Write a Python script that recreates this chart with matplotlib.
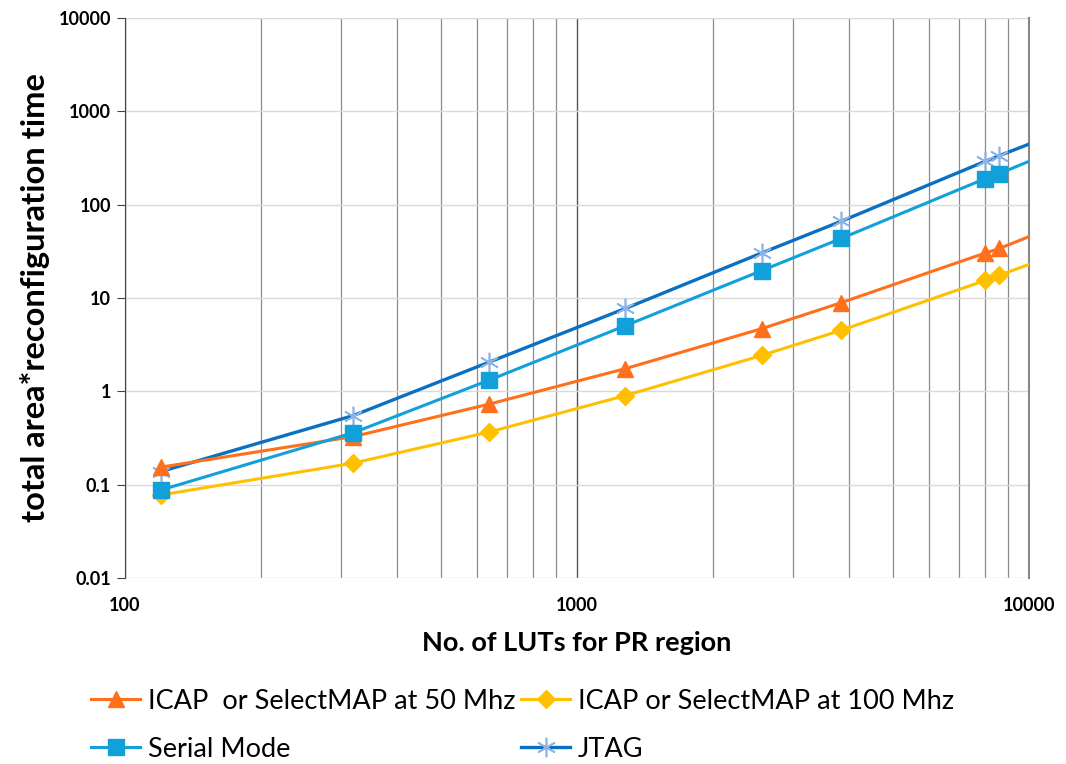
import matplotlib
matplotlib.use("Agg")
import matplotlib.pyplot as plt
from matplotlib.ticker import LogLocator, FixedLocator, NullFormatter

plt.rcParams['font.family'] = ['Lato', 'DejaVu Sans']

# LUTs in the PR region (last value is where the lines run out of the plot)
luts = [120, 320, 640, 1280, 2560, 3840, 8000, 8600, 10000]

icap50 = [0.154, 0.327, 0.73, 1.75, 4.68, 8.9, 30.3, 33.9, 45.4]
icap100 = [0.0775, 0.17, 0.367, 0.9, 2.42, 4.5, 15.4, 17.5, 22.9]
serial = [0.0875, 0.36, 1.32, 5.05, 19.6, 43.4, 190, 215, 291]
jtag = [0.138, 0.55, 2.06, 7.73, 30.3, 66.3, 291, 335, 445]

labels = ['ICAP  or SelectMAP at 50 Mhz', 'ICAP or SelectMAP at 100 Mhz',
          'Serial Mode', 'JTAG']

fig = plt.figure(figsize=(10.66, 7.64), dpi=100)
ax = fig.add_axes([0.1173, 0.2435, 0.848, 0.733])

mk = list(range(len(luts) - 1))
h1, = ax.plot(luts, icap50, color='#FF6F1C', lw=2.2, marker='^', ms=12,
              markevery=mk, label=labels[0], zorder=4)
h2, = ax.plot(luts, icap100, color='#FFC000', lw=2.2, marker='D', ms=9,
              markevery=mk, label=labels[1], zorder=4)
h3, = ax.plot(luts, serial, color='#12A0DA', lw=2.2, marker='s', ms=11,
              markevery=mk, label=labels[2], zorder=5)
h4, = ax.plot(luts, jtag, color='#0B70C2', lw=2.4, marker=(6, 2, 0), ms=14,
              markeredgecolor='#8DB4E2', markeredgewidth=1.2,
              markevery=mk, label=labels[3], zorder=3)

ax.set_xscale('log')
ax.set_yscale('log')
ax.set_xlim(100, 10000)
ax.set_ylim(0.01, 10000)

ax.xaxis.set_major_locator(FixedLocator([100, 1000, 10000]))
ax.xaxis.set_minor_locator(LogLocator(base=10, subs=range(2, 10)))
ax.xaxis.set_minor_formatter(NullFormatter())
ax.set_xticklabels(['100', '1000', '10000'])
ax.yaxis.set_major_locator(FixedLocator([0.01, 0.1, 1, 10, 100, 1000, 10000]))
ax.yaxis.set_minor_locator(FixedLocator([]))
ax.set_yticklabels(['0.01', '0.1', '1', '10', '100', '1000', '10000'])

ax.grid(True, axis='y', which='major', color='#D9D9D9', lw=1.0)
ax.grid(True, axis='x', which='major', color='#555555', lw=1.0)
ax.grid(True, axis='x', which='minor', color='#8C8C8C', lw=0.9)
ax.set_axisbelow(True)

for s in ['top', 'bottom']:
    ax.spines[s].set_visible(False)
ax.spines['right'].set_color('#888888')
ax.spines['right'].set_linewidth(1.5)
ax.spines['left'].set_color('#444444')

ax.tick_params(axis='x', which='both', length=0, pad=14, labelsize=13)
ax.tick_params(axis='y', which='major', length=6, color='#444444',
               labelsize=13, pad=4)
for t in ax.get_xticklabels() + ax.get_yticklabels():
    t.set_fontweight('bold')

ax.set_xlabel('No. of LUTs for PR region', fontsize=19.5, fontweight='bold',
              labelpad=12)
ax.set_ylabel('total area*reconfiguration time', fontsize=23.5,
              fontweight='bold', labelpad=6)

# matplotlib fills legend columns first, so order for row-wise reading
fig.legend([h1, h3, h2, h4], [labels[0], labels[2], labels[1], labels[3]],
           loc='lower left', bbox_to_anchor=(0.068, -0.022), ncol=2,
           frameon=False, fontsize=19.5, handlelength=1.8, handletextpad=0.3,
           columnspacing=0.2, labelspacing=0.85, borderaxespad=0.3)

fig.savefig('out.png', dpi=100)
